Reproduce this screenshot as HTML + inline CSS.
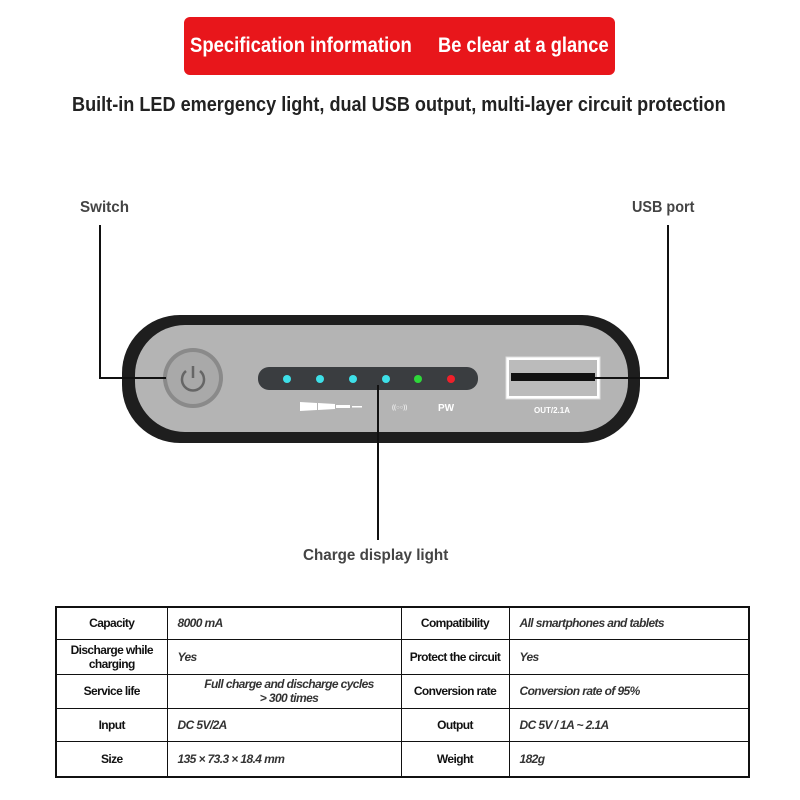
<!DOCTYPE html>
<html><head><style>
body{margin:0;width:800px;height:800px;background:#fff;position:relative;overflow:hidden;font-family:"Liberation Sans",sans-serif;font-weight:bold}
.a{position:absolute;white-space:nowrap;transform-origin:0 0}
table{position:absolute;left:55px;top:606px;width:695px;border-collapse:collapse;border:2px solid #111;table-layout:fixed}
td{border:1.5px solid #111;font-size:12px;letter-spacing:-0.6px;color:#111;padding:0 0 0 10px;line-height:14px;white-space:nowrap;overflow:hidden}
td.h{text-align:center;padding:0}
td.v{font-style:italic;color:#333}
</style></head><body>
<div class="a" style="left:184px;top:17px;width:431px;height:58px;background:#e8161b;border-radius:6px"></div>
<div class="a" style="left:190px;top:34px;color:#fff;font-size:21px;transform:scaleX(0.88)">Specification information</div>
<div class="a" style="left:438px;top:34px;color:#fff;font-size:21px;transform:scaleX(0.87)">Be clear at a glance</div>
<div class="a" style="left:72px;top:94px;font-size:20px;color:#222;transform:scaleX(0.905)">Built-in LED emergency light, dual USB output, multi-layer circuit protection</div>
<div class="a" style="left:80px;top:199px;font-size:16px;color:#444;transform:scaleX(0.95)">Switch</div>
<div class="a" style="left:632px;top:199px;font-size:16px;color:#444;transform:scaleX(0.9)">USB port</div>
<div class="a" style="left:303px;top:547px;font-size:16px;color:#444;transform:scaleX(0.95)">Charge display light</div>
<svg class="a" style="left:0;top:0" width="800" height="800">
<rect x="122" y="315" width="518" height="128" rx="58" fill="#1e1e1e"/>
<rect x="135" y="325" width="493" height="107" rx="50" fill="#b4b4b4"/>
<circle cx="193" cy="378" r="30" fill="#8a8a8a"/>
<circle cx="193" cy="378" r="26" fill="#a9a9a9"/>
<path d="M186 371 A11 11 0 1 0 200 371" fill="none" stroke="#666" stroke-width="2.5"/>
<line x1="193" y1="366" x2="193" y2="378" stroke="#666" stroke-width="2.5"/>
<rect x="258" y="367" width="220" height="23" rx="11" fill="#3a3d40"/>
<g fill="#3ee0e8"><circle cx="287" cy="379" r="4"/><circle cx="320" cy="379" r="4"/><circle cx="353" cy="379" r="4"/><circle cx="386" cy="379" r="4"/></g>
<circle cx="418" cy="379" r="4" fill="#2ed83a"/><circle cx="451" cy="379" r="4" fill="#f0202a"/>
<polygon points="300,402 317,403 317,410 300,411" fill="#fff"/><polygon points="318,403 335,404 335,409 318,410" fill="#fff"/><rect x="336" y="405" width="14" height="3" fill="#fff"/><rect x="352" y="406" width="10" height="1.5" fill="#fff"/>
<text x="392" y="409" font-size="6" fill="#eee">((○○))</text>
<text x="438" y="411" font-size="10" fill="#fff">PW</text>
<rect x="506" y="357" width="94" height="42" fill="#fff" stroke="#ddd"/>
<rect x="509" y="360" width="88" height="36" fill="#bbb"/>
<rect x="511" y="373" width="84" height="8" fill="#111"/>
<text x="534" y="413" font-size="8" fill="#fff">OUT/2.1A</text>
<g stroke="#111" stroke-width="2" fill="none">
<polyline points="100,225 100,378 166,378"/>
<polyline points="668,225 668,378 585,378"/>
<line x1="378" y1="385" x2="378" y2="540"/>
</g>
</svg>
<table>
<colgroup><col style="width:111px"><col style="width:234px"><col style="width:108px"><col></colgroup>
<tr style="height:32px"><td class="h">Capacity</td><td class="v">8000 mA</td><td class="h">Compatibility</td><td class="v">All smartphones and tablets</td></tr>
<tr style="height:35px"><td class="h">Discharge while<br>charging</td><td class="v">Yes</td><td class="h">Protect the circuit</td><td class="v">Yes</td></tr>
<tr style="height:34px"><td class="h">Service life</td><td class="v" style="text-align:center">Full charge and discharge cycles<br>&gt; 300 times</td><td class="h">Conversion rate</td><td class="v">Conversion rate of 95%</td></tr>
<tr style="height:33px"><td class="h">Input</td><td class="v">DC 5V/2A</td><td class="h">Output</td><td class="v">DC 5V / 1A ~ 2.1A</td></tr>
<tr style="height:36px"><td class="h">Size</td><td class="v">135 × 73.3 × 18.4 mm</td><td class="h">Weight</td><td class="v">182g</td></tr>
</table>
</body></html>
